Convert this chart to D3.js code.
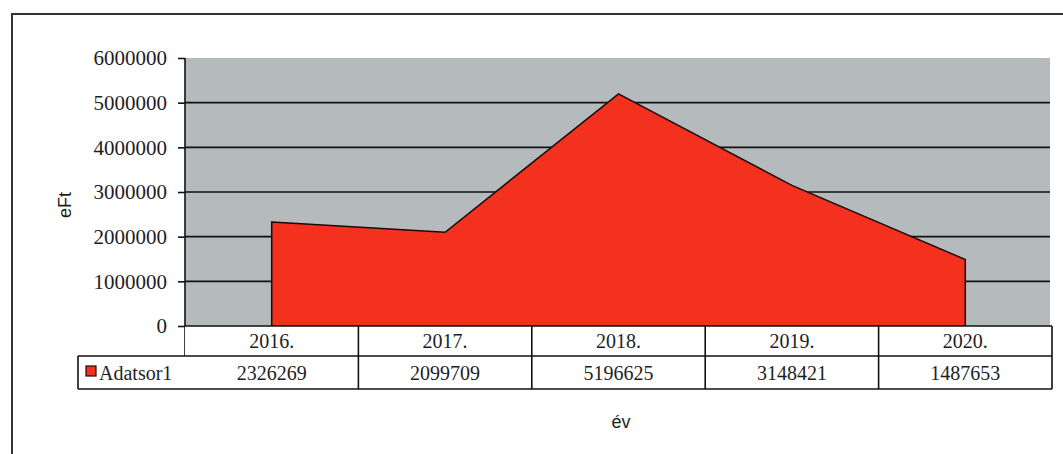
<!DOCTYPE html>
<html><head><meta charset="utf-8">
<script src="https://cdn.jsdelivr.net/npm/d3@7"></script>
<style>body{margin:0;background:#fff}svg{display:block}text{fill:#1e1e1e}</style>
</head><body><svg id="c" width="1063" height="454"></svg>
<script>
const categories = ["2016.","2017.","2018.","2019.","2020."];
const values = [2326269, 2099709, 5196625, 3148421, 1487653];
const seriesName = "Adatsor1";
const yTicks = [0,1000000,2000000,3000000,4000000,5000000,6000000];
const yLabel = "eFt";
const xLabel = "év";

const serif = "'Liberation Serif','Times New Roman',serif";
const sans = "'Liberation Sans',Arial,sans-serif";
const svg = d3.select("#c");
const L = 185, R = 1052, T = 58, B = 326;
const row1B = 356, row2B = 389, legL = 78;
const fs = 20;

// outer frame
svg.append("rect").attr("x",12).attr("y",14).attr("width",1080).attr("height",480)
  .attr("fill","#fff").attr("stroke","#333").attr("stroke-width",2);

const x = d3.scaleBand().domain(categories).range([L,R]).padding(0);
const y = d3.scaleLinear().domain([0,6000000]).range([B,T]);

// plot bg
svg.append("rect").attr("x",L).attr("y",T).attr("width",R-L-2).attr("height",B-T).attr("fill","#b5babc");

// gridlines
svg.append("g").selectAll("line").data(yTicks.filter(d=>d>0 && d<6000000)).join("line")
  .attr("x1",L).attr("x2",R-2).attr("y1",d=>y(d)).attr("y2",d=>y(d))
  .attr("stroke","#111").attr("stroke-width",1.6);

// area
const pts = categories.map((c,i)=>[x(c)+x.bandwidth()/2, values[i]]);
const area = d3.area().x(d=>d[0]).y0(y(0)).y1(d=>y(d[1]));
svg.append("path").attr("d",area(pts))
  .attr("fill","#f4311f").attr("stroke","#1a0a0a").attr("stroke-width",1.5).attr("stroke-linejoin","miter");

// y axis
const yAxis = d3.axisLeft(y).tickValues(yTicks).tickSize(7).tickFormat(d3.format("d"));
const ga = svg.append("g").attr("transform",`translate(${L},0)`).call(yAxis);
ga.select(".domain").remove();
ga.selectAll(".tick line").attr("stroke","#111").attr("stroke-width",1.6);
ga.selectAll(".tick text").style("font-size","21px").style("font-family",serif).style("fill","#1e1e1e").attr("x",-18).attr("dy","0.33em");
svg.append("line").attr("x1",L).attr("x2",L).attr("y1",T).attr("y2",row2B).attr("stroke","#111").attr("stroke-width",1.6);

// data table
const tb = svg.append("g");
tb.append("rect").attr("x",L).attr("y",B).attr("width",R-L).attr("height",row1B-B).attr("fill","#fff");
tb.append("rect").attr("x",legL).attr("y",row1B).attr("width",R-legL).attr("height",row2B-row1B).attr("fill","#fff");
const ln = (x1,y1,x2,y2)=>tb.append("line").attr("x1",x1).attr("y1",y1).attr("x2",x2).attr("y2",y2).attr("stroke","#111").attr("stroke-width",1.6);
ln(L,B,R,B); ln(legL,row1B,R,row1B); ln(legL,row2B,R,row2B); ln(legL,row1B,legL,row2B); ln(R,B,R,row2B);
categories.forEach((c,i)=>{ if(i>0) ln(x(c),B,x(c),row2B); });
tb.selectAll("text.cat").data(categories).join("text").attr("class","cat")
  .attr("x",d=>x(d)+x.bandwidth()/2).attr("y",(B+row1B)/2).attr("dy","0.35em")
  .attr("text-anchor","middle").style("font-size",fs+"px").style("font-family",serif).text(d=>d);
tb.selectAll("text.val").data(values).join("text").attr("class","val")
  .attr("x",(d,i)=>x(categories[i])+x.bandwidth()/2).attr("y",(row1B+row2B)/2).attr("dy","0.35em")
  .attr("text-anchor","middle").style("font-size",fs+"px").style("font-family",serif).text(d=>d);
// legend key
tb.append("rect").attr("x",86).attr("y",366).attr("width",10).attr("height",10)
  .attr("fill","#f4311f").attr("stroke","#1a0a0a").attr("stroke-width",1.2);
tb.append("text").attr("x",99).attr("y",(row1B+row2B)/2).attr("dy","0.35em")
  .style("font-size",fs+"px").style("font-family",serif).text(seriesName);

// axis titles
svg.append("text").attr("transform","translate(71,205) rotate(-90)").attr("text-anchor","middle")
  .style("font-size","18px").style("font-family",sans).text(yLabel);
svg.append("text").attr("x",621).attr("y",428).attr("text-anchor","middle")
  .style("font-size","18px").style("font-family",sans).text(xLabel);
</script></body></html>
